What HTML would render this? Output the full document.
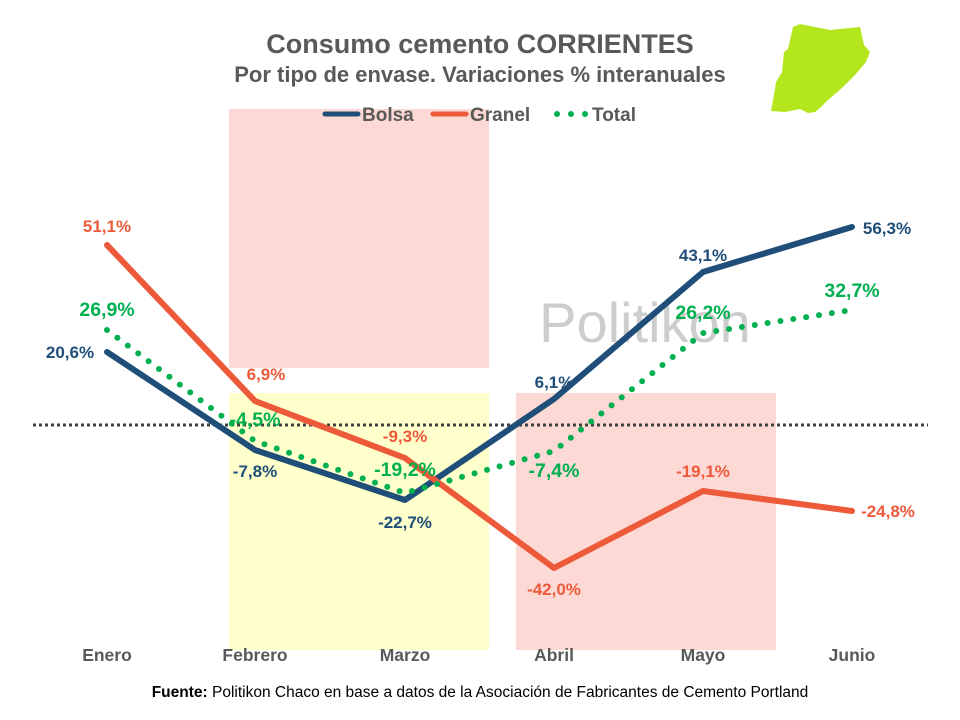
<!DOCTYPE html>
<html><head><meta charset="utf-8"><style>body{margin:0;background:#fff}svg{display:block}text{font-family:"Liberation Sans",sans-serif;font-weight:bold}</style></head><body>
<svg width="960" height="720" viewBox="0 0 960 720">
<rect x="229" y="109" width="260" height="259" fill="#fdd9d5"/>
<rect x="229" y="393" width="260" height="257" fill="#ffffcc"/>
<rect x="516" y="393" width="260" height="257" fill="#fdd9d5"/>
<text x="645" y="342" font-size="56" fill="#cdcdcd" text-anchor="middle" style="font-weight:normal">Politikon</text>
<polygon points="793,27 800,24 830,30 860,27 864,45 870,52 866,62 855,75 842,88 828,100 820,108 815,112 808,113 800,109 785,112 771,111 774,95 776,82 782,72 784,52 788,49 791,36" fill="#b4e61e"/>
<text x="480" y="53" font-size="27" fill="#595959" text-anchor="middle">Consumo cemento CORRIENTES</text>
<text x="480" y="82" font-size="22" fill="#595959" text-anchor="middle">Por tipo de envase. Variaciones % interanuales</text>
<line x1="325" y1="114" x2="358" y2="114" stroke="#1f4e79" stroke-width="5" stroke-linecap="round"/>
<text x="362" y="121" font-size="19" fill="#595959">Bolsa</text>
<line x1="433" y1="114" x2="466" y2="114" stroke="#ed5a3a" stroke-width="5" stroke-linecap="round"/>
<text x="470" y="121" font-size="19" fill="#595959">Granel</text>
<line x1="557" y1="114" x2="590" y2="114" stroke="#00b050" stroke-width="6" stroke-linecap="round" stroke-dasharray="0 14"/>
<text x="592" y="121" font-size="19" fill="#595959">Total</text>
<line x1="33" y1="425" x2="928" y2="425" stroke="#404040" stroke-width="3" stroke-dasharray="3 3"/>
<polyline points="107,352 255,450 405,500 554,399 703,272 852,227" fill="none" stroke="#1f4e79" stroke-width="6" stroke-linejoin="round" stroke-linecap="round"/>
<polyline points="107,245 255,401 405,458 554,568 703,491 852,511" fill="none" stroke="#ed5a3a" stroke-width="6" stroke-linejoin="round" stroke-linecap="round"/>
<polyline points="107,330 255,441 405,493 554,451 703,333 852,310" fill="none" stroke="#00b050" stroke-width="6" stroke-linecap="round" stroke-dasharray="0 13"/>
<g font-size="17" fill="#1f4e79">
<text x="70" y="358" text-anchor="middle">20,6%</text>
<text x="255" y="477" text-anchor="middle">-7,8%</text>
<text x="405" y="528" text-anchor="middle">-22,7%</text>
<text x="554" y="388" text-anchor="middle">6,1%</text>
<text x="703" y="261" text-anchor="middle">43,1%</text>
<text x="887" y="234" text-anchor="middle">56,3%</text>
</g>
<g font-size="17" fill="#ed5a3a">
<text x="107" y="232" text-anchor="middle">51,1%</text>
<text x="266" y="380" text-anchor="middle">6,9%</text>
<text x="405" y="442" text-anchor="middle">-9,3%</text>
<text x="554" y="595" text-anchor="middle">-42,0%</text>
<text x="703" y="477" text-anchor="middle">-19,1%</text>
<text x="888" y="517" text-anchor="middle">-24,8%</text>
</g>
<g font-size="19.5" fill="#00b050">
<text x="107" y="316" text-anchor="middle">26,9%</text>
<text x="255" y="426" text-anchor="middle">-4,5%</text>
<text x="405" y="476" text-anchor="middle">-19,2%</text>
<text x="554" y="477" text-anchor="middle">-7,4%</text>
<text x="703" y="319" text-anchor="middle">26,2%</text>
<text x="852" y="297" text-anchor="middle">32,7%</text>
</g>
<g font-size="17.5" fill="#595959" text-anchor="middle">
<text x="107" y="661">Enero</text><text x="255" y="661">Febrero</text><text x="405" y="661">Marzo</text>
<text x="554" y="661">Abril</text><text x="703" y="661">Mayo</text><text x="852" y="661">Junio</text>
</g>
<text x="480" y="697" font-size="15.5" fill="#000" text-anchor="middle">Fuente: <tspan style="font-weight:normal">Politikon Chaco en base a datos de la Asociación de Fabricantes de Cemento Portland</tspan></text>
</svg>
</body></html>
